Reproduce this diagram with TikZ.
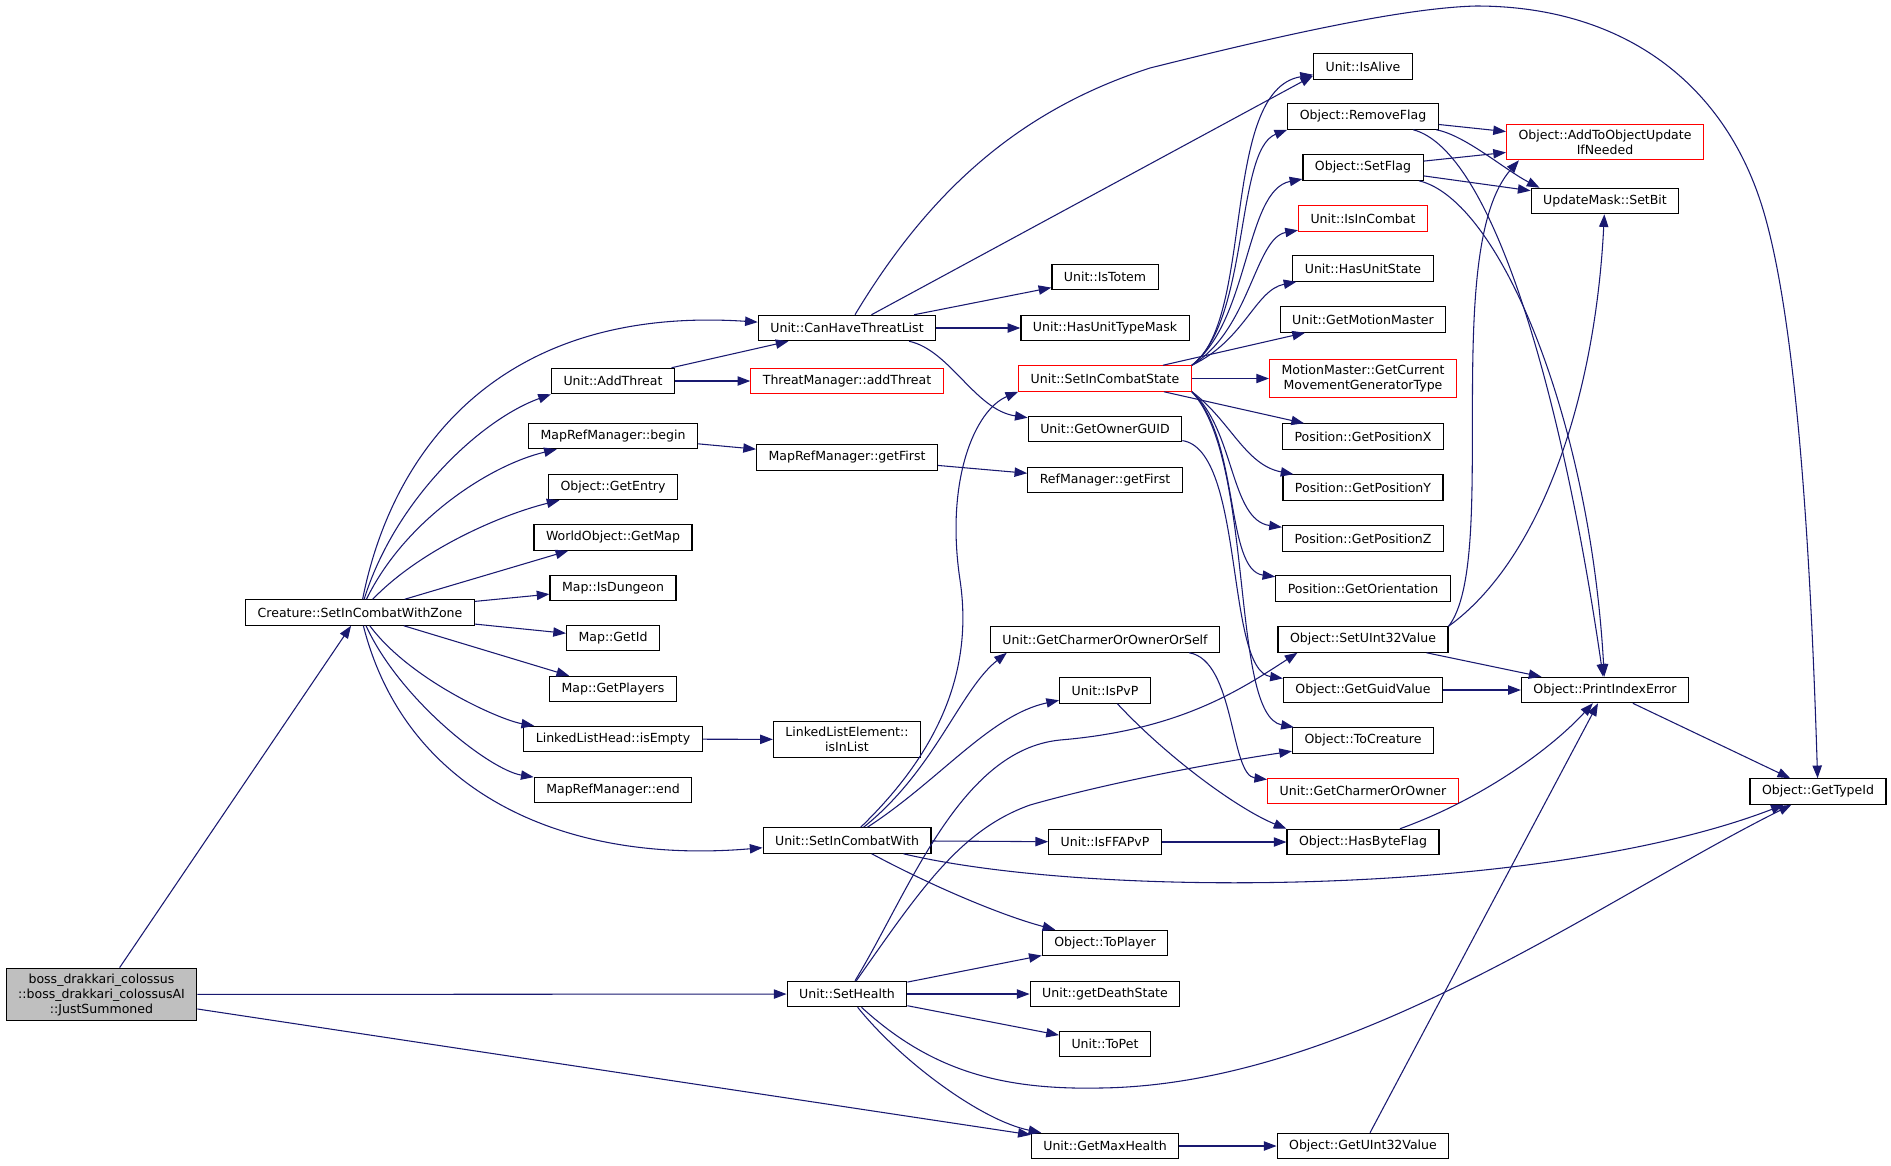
\documentclass[tikz,border=0pt]{standalone}
\usepackage{fontspec}
\setmainfont{DejaVu Sans}
\usepackage{tikz}
\usetikzlibrary{arrows.meta}
\usetikzlibrary{calc}

\begin{document}
\begin{tikzpicture}[x=0.75pt,y=0.75pt,yscale=-1,xscale=1,
  fn/.style={draw={rgb, 255:red, 0; green, 0; blue, 0 }, line width=0.9pt, fill=white, inner xsep=9pt, inner ysep=4pt, minimum height=19pt, align=center, font=\fontsize{9.4}{11.25}\selectfont},
  fnred/.style={fn, draw={rgb, 255:red, 255; green, 0; blue, 0 }},
  fnroot/.style={fn, fill={rgb, 255:red, 191; green, 191; blue, 191 }},
  callto/.style={draw={rgb, 255:red, 25; green, 25; blue, 112 }, line width=0.8pt, -{Triangle[length=9.5pt,width=7pt]}}]
\useasboundingbox (0,0) rectangle (1891,1165);

% Nodes, column by column
\node[fnroot] (boss) at (101.5,994.5) {boss\_drakkari\_colossus\\::boss\_drakkari\_colossusAI\\::JustSummoned};
\node[fn] (cwz) at (360,612.5) {Creature::SetInCombatWithZone};

\node[fn] (addthr) at (613,381) {Unit::AddThreat};
\node[fn] (mrbegin) at (613,436) {MapRefManager::begin};
\node[fn] (getentry) at (613,487) {Object::GetEntry};
\node[fn] (getmap) at (613,537.5) {WorldObject::GetMap};
\node[fn] (isdungeon) at (613,588) {Map::IsDungeon};
\node[fn] (getid) at (613,638) {Map::GetId};
\node[fn] (getplayers) at (613,689) {Map::GetPlayers};
\node[fn] (isempty) at (613,739) {LinkedListHead::isEmpty};
\node[fn] (mrend) at (613,790) {MapRefManager::end};

\node[fn] (chtl) at (847,328) {Unit::CanHaveThreatList};
\node[fnred] (tmadd) at (847,381) {ThreatManager::addThreat};
\node[fn] (mrfirst) at (847,457.5) {MapRefManager::getFirst};
\node[fn] (isinlist) at (847,739.5) {LinkedListElement::\\isInList};
\node[fn] (sicw) at (847,840.5) {Unit::SetInCombatWith};
\node[fn] (sh) at (847,994) {Unit::SetHealth};

\node[fn] (istotem) at (1105,277) {Unit::IsTotem};
\node[fn] (hasutm) at (1105,328) {Unit::HasUnitTypeMask};
\node[fnred] (sics) at (1105,378.5) {Unit::SetInCombatState};
\node[fn] (ownerguid) at (1105,429) {Unit::GetOwnerGUID};
\node[fn] (refirst) at (1105,480) {RefManager::getFirst};
\node[fn] (charmself) at (1105,639.5) {Unit::GetCharmerOrOwnerOrSelf};
\node[fn] (ispvp) at (1105,690.5) {Unit::IsPvP};
\node[fn] (isffa) at (1105,842) {Unit::IsFFAPvP};
\node[fn] (toplayer) at (1105,943) {Object::ToPlayer};
\node[fn] (deathst) at (1105,994) {Unit::getDeathState};
\node[fn] (topet) at (1105,1044) {Unit::ToPet};
\node[fn] (gmh) at (1105,1146) {Unit::GetMaxHealth};

\node[fn] (isalive) at (1363,66.5) {Unit::IsAlive};
\node[fn] (rmflag) at (1363,116.5) {Object::RemoveFlag};
\node[fn] (setflag) at (1363,167.5) {Object::SetFlag};
\node[fnred] (isincombat) at (1363,218.5) {Unit::IsInCombat};
\node[fn] (hasus) at (1363,268.5) {Unit::HasUnitState};
\node[fn] (motionm) at (1363,319.5) {Unit::GetMotionMaster};
\node[fnred] (curmgt) at (1363,378.5) {MotionMaster::GetCurrent\\MovementGeneratorType};
\node[fn] (posx) at (1363,436.5) {Position::GetPositionX};
\node[fn] (posy) at (1363,487.5) {Position::GetPositionY};
\node[fn] (posz) at (1363,538.5) {Position::GetPositionZ};
\node[fn] (orient) at (1363,588.5) {Position::GetOrientation};
\node[fn] (setu32) at (1363,639.5) {Object::SetUInt32Value};
\node[fn] (guidval) at (1363,690) {Object::GetGuidValue};
\node[fn] (tocreat) at (1363,740.5) {Object::ToCreature};
\node[fnred] (charmer) at (1363,791) {Unit::GetCharmerOrOwner};
\node[fn] (hasbyte) at (1363,842) {Object::HasByteFlag};
\node[fn] (getu32) at (1363,1146) {Object::GetUInt32Value};

\node[fnred] (addupd) at (1605,142) {Object::AddToObjectUpdate\\IfNeeded};
\node[fn] (setbit) at (1605,201) {UpdateMask::SetBit};
\node[fn] (printerr) at (1605,690) {Object::PrintIndexError};
\node[fn] (typeid) at (1818,791.5) {Object::GetTypeId};

% Calls from the root
\draw[callto] (boss) -- (cwz);
\draw[callto] (boss) -- (sh);
\draw[callto] (boss) -- (gmh);

% Calls from SetInCombatWithZone
\draw[callto] (cwz) .. controls (392,450) and (500,305) .. (chtl);
\draw[callto] (cwz) .. controls (395,500) and (480,420) .. (addthr.south west);
\draw[callto] (cwz) .. controls (405,520) and (490,465) .. (mrbegin);
\draw[callto] (cwz) .. controls (420,550) and (500,515) .. (getentry);
\draw[callto] (cwz) -- (getmap);
\draw[callto] (cwz) -- (isdungeon);
\draw[callto] (cwz) -- (getid);
\draw[callto] (cwz) -- (getplayers);
\draw[callto] (cwz) .. controls (410,680) and (500,720) .. (isempty);
\draw[callto] (cwz) .. controls (400,700) and (490,770) .. (mrend);
\draw[callto] (cwz) .. controls (405,790) and (560,865) .. (sicw);

\draw[callto] (addthr) -- (tmadd);
\draw[callto] (addthr) -- (chtl);
\draw[callto] (mrbegin) -- (mrfirst);
\draw[callto] (mrfirst) -- (refirst);
\draw[callto] (isempty) -- (isinlist);

% Calls from CanHaveThreatList
\draw[callto] (chtl) -- ($(isalive.south west)+(0,-4)$);
\draw[callto] (chtl) -- (istotem);
\draw[callto] (chtl) -- (hasutm);
\draw[callto] (chtl) .. controls (950,350) and (975,410) .. (ownerguid);
\draw[callto] (chtl) .. controls (930,190) and (1020,110) .. (1150,68) .. controls (1270,38) and (1400,8) .. (1476,6) .. controls (1620,6) and (1720,80) .. (1760,200) .. controls (1800,320) and (1812,600) .. (typeid);

% Calls from SetInCombatState
\draw[callto] (sics.north east) .. controls (1255,320) and (1220,90) .. (isalive);
\draw[callto] (sics.north east) .. controls (1250,320) and (1235,150) .. (rmflag.south west);
\draw[callto] (sics.north east) .. controls (1250,320) and (1245,190) .. (setflag);
\draw[callto] (sics.north east) .. controls (1250,330) and (1255,238) .. (isincombat);
\draw[callto] (sics.north east) .. controls (1245,340) and (1255,290) .. (hasus);
\draw[callto] (sics) -- (motionm);
\draw[callto] (sics) -- (curmgt);
\draw[callto] (sics) -- (posx);
\draw[callto] (sics.south east) .. controls (1230,420) and (1245,465) .. (posy);
\draw[callto] (sics.south east) .. controls (1235,430) and (1230,520) .. (posz);
\draw[callto] (sics.south east) .. controls (1240,440) and (1225,570) .. (orient);
\draw[callto] (sics.south east) .. controls (1255,460) and (1230,715) .. (tocreat);
\draw[callto] (ownerguid) .. controls (1245,450) and (1225,670) .. (guidval);
\draw[callto] (charmself) .. controls (1235,660) and (1230,775) .. (charmer);

% Calls from SetInCombatWith
\draw[callto] (sicw) .. controls (930,760) and (975,680) .. (960,580) .. controls (945,480) and (975,410) .. (sics.south west);
\draw[callto] (sicw) .. controls (935,770) and (960,690) .. ($(charmself.south west)+(17,0)$);
\draw[callto] (sicw) .. controls (940,780) and (990,715) .. (ispvp);
\draw[callto] (sicw) -- (isffa);
\draw[callto] (sicw) .. controls (930,885) and (1000,915) .. (toplayer);
\draw[callto] (sicw) .. controls (1100,900) and (1550,895) .. (typeid);

\draw[callto] (ispvp) .. controls (1170,760) and (1240,810) .. (hasbyte.north west);
\draw[callto] (isffa) -- (hasbyte);
\draw[callto] (hasbyte) .. controls (1480,800) and (1550,750) .. (printerr);

% Calls from SetHealth
\draw[callto] (sh) -- (toplayer);
\draw[callto] (sh) -- (deathst);
\draw[callto] (sh) -- (topet);
\draw[callto] (sh) .. controls (900,1060) and (980,1120) .. (gmh);
\draw[callto] (sh) .. controls (930,1070) and (1000,1090) .. (1100,1088) .. controls (1350,1085) and (1600,900) .. (typeid);
\draw[callto] (sh) .. controls (910,890) and (960,750) .. (1060,740) .. controls (1180,730) and (1240,690) .. ($(setu32.south west)+(20,0)$);
\draw[callto] (sh) .. controls (920,890) and (960,830) .. (1030,805) .. controls (1100,785) and (1200,765) .. (tocreat);
\draw[callto] (gmh) -- (getu32);

% Object helpers
\draw[callto] (rmflag) -- (addupd);
\draw[callto] (rmflag) .. controls (1465,135) and (1505,170) .. ($(setbit.north west)+(9,0)$);
\draw[callto] (rmflag) .. controls (1490,150) and (1560,380) .. (printerr);
\draw[callto] (setflag) -- (addupd);
\draw[callto] (setflag) -- (setbit);
\draw[callto] (setflag) .. controls (1500,200) and (1590,420) .. (printerr);
\draw[callto] (setu32.north east) .. controls (1500,560) and (1440,250) .. ($(addupd.south west)+(13,0)$);
\draw[callto] (setu32.north east) .. controls (1540,560) and (1595,400) .. (setbit);
\draw[callto] (setu32) -- (printerr);
\draw[callto] (guidval) -- (printerr);
\draw[callto] (getu32) -- (printerr);
\draw[callto] (printerr) -- (typeid);

\end{tikzpicture}
\end{document}
